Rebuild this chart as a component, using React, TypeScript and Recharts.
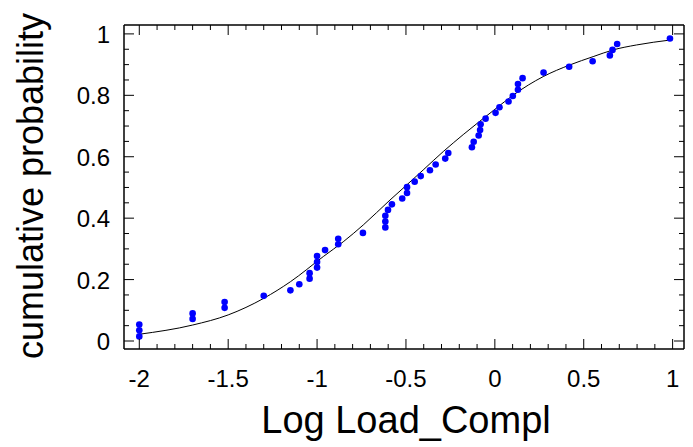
import React from "react";
import { ComposedChart, XAxis, YAxis, Line, Scatter } from "recharts";

// observed points (Log Load_Compl, cumulative probability)
const pointX = [
  -2.0, -2.0, -2.0, -1.7, -1.7, -1.52, -1.52, -1.3, -1.15, -1.1,
  -1.042, -1.042, -1.0, -1.0, -1.0, -0.955, -0.881, -0.881, -0.742, -0.616,
  -0.616, -0.616, -0.601, -0.579, -0.521, -0.494, -0.494, -0.451, -0.417, -0.365,
  -0.333, -0.279, -0.262, -0.129, -0.119, -0.091, -0.083, -0.08, -0.052, 0.004,
  0.026, 0.077, 0.101, 0.13, 0.13, 0.156, 0.274, 0.418, 0.55, 0.647,
  0.662, 0.688, 0.985,
];
const pointY = [
  0.015, 0.035, 0.054, 0.072, 0.09, 0.108, 0.127, 0.147, 0.165, 0.185,
  0.203, 0.221, 0.239, 0.257, 0.277, 0.296, 0.315, 0.333, 0.352, 0.37,
  0.389, 0.408, 0.427, 0.445, 0.464, 0.482, 0.501, 0.519, 0.537, 0.556,
  0.575, 0.594, 0.612, 0.631, 0.649, 0.669, 0.687, 0.706, 0.724, 0.743,
  0.761, 0.78, 0.798, 0.818, 0.837, 0.856, 0.874, 0.893, 0.911, 0.93,
  0.948, 0.967, 0.985,
];

// fitted curve
const curveX = [
  -2.0, -1.7, -1.5, -1.3, -1.15, -0.965, -0.853, -0.74, -0.59, -0.496,
  -0.403, -0.29, -0.178, -0.084, 0.008, 0.104, 0.272, 0.422, 0.553, 0.666,
  0.797, 0.985,
];
const curveY = [
  0.022, 0.052, 0.085, 0.139, 0.193, 0.275, 0.323, 0.378, 0.459, 0.508,
  0.557, 0.617, 0.672, 0.716, 0.758, 0.801, 0.861, 0.899, 0.926, 0.948,
  0.964, 0.98,
];

const xTicks = [
  -2.0, -1.9, -1.8, -1.7, -1.6, -1.5, -1.4, -1.3, -1.2, -1.1,
  -1.0, -0.9, -0.8, -0.7, -0.6, -0.5, -0.4, -0.3, -0.2, -0.1,
  0, 0.1, 0.2, 0.3, 0.4, 0.5, 0.6, 0.7, 0.8, 0.9, 1.0,
];
const xLabels = [-2, -1.5, -1, -0.5, 0, 0.5, 1];
const yTicks = [
  0, 0.05, 0.1, 0.15, 0.2, 0.25, 0.3, 0.35, 0.4, 0.45, 0.5,
  0.55, 0.6, 0.65, 0.7, 0.75, 0.8, 0.85, 0.9, 0.95, 1.0,
];
const yLabels = [0, 0.2, 0.4, 0.6, 0.8, 1];

const xDomain: [number, number] = [-2.086, 1.064];
const yDomain: [number, number] = [-0.026, 1.029];

const points = pointX.map((x, i) => ({ x, y: pointY[i] }));
const curve = curveX.map((x, i) => ({ x, y: curveY[i] }));

const FONT = "'Liberation Sans', Arial, Helvetica, sans-serif";
const MAJOR = 10;
const MINOR = 5;

const isLabel = (arr: number[], v: number) => arr.some((a) => Math.abs(a - v) < 1e-6);

const BottomTick = (props: any) => {
  const { x, y, payload } = props;
  const v = payload.value;
  const major = isLabel(xLabels, v);
  return (
    <g>
      <line x1={x} y1={y} x2={x} y2={y - (major ? MAJOR : MINOR)} stroke="#000" strokeWidth={1} />
      {major && (
        <text x={x} y={y + 38} textAnchor="middle" fontFamily={FONT} fontSize={24} fill="#000">
          {String(v)}
        </text>
      )}
    </g>
  );
};

const TopTick = (props: any) => {
  const { x, y, payload } = props;
  const major = isLabel(xLabels, payload.value);
  return <line x1={x} y1={y} x2={x} y2={y + (major ? MAJOR : MINOR)} stroke="#000" strokeWidth={1} />;
};

const LeftTick = (props: any) => {
  const { x, y, payload } = props;
  const v = payload.value;
  const major = isLabel(yLabels, v);
  return (
    <g>
      <line x1={x} y1={y} x2={x + (major ? MAJOR : MINOR)} y2={y} stroke="#000" strokeWidth={1} />
      {major && (
        <text x={x - 14} y={y + 9} textAnchor="end" fontFamily={FONT} fontSize={24} fill="#000">
          {String(v)}
        </text>
      )}
    </g>
  );
};

const RightTick = (props: any) => {
  const { x, y, payload } = props;
  const major = isLabel(yLabels, payload.value);
  return <line x1={x} y1={y} x2={x - (major ? MAJOR : MINOR)} y2={y} stroke="#000" strokeWidth={1} />;
};

const Dot = (props: any) => <circle cx={props.cx} cy={props.cy} r={3.3} fill="#0000ff" />;

const XTitle = (props: any) => {
  const vb = props.viewBox;
  return (
    <text x={vb.x + vb.width / 2 + 2} y={vb.y + 84} textAnchor="middle" fontFamily={FONT} fontSize={38} fill="#000">
      Log Load_Compl
    </text>
  );
};

const YTitle = (props: any) => {
  const vb = props.viewBox;
  const cx = 43;
  const cy = vb.y + vb.height / 2 - 1;
  return (
    <text x={cx} y={cy} textAnchor="middle" fontFamily={FONT} fontSize={36} fill="#000" transform={`rotate(-90, ${cx}, ${cy})`}>
      cumulative probability
    </text>
  );
};

export default function App() {
  return (
    <div style={{ position: "absolute", left: 0, top: 0, background: "#fff" }}>
      <ComposedChart width={693} height={447} margin={{ top: 0, right: 0, bottom: 0, left: 0 }}>
        <XAxis
          xAxisId="b"
          orientation="bottom"
          type="number"
          dataKey="x"
          domain={xDomain}
          allowDataOverflow
          ticks={xTicks}
          interval={0}
          height={98}
          tickSize={0}
          tickMargin={0}
          tick={<BottomTick />}
          axisLine={{ stroke: "#000", strokeWidth: 1.5 }}
          label={{ content: <XTitle /> }}
        />
        <XAxis
          xAxisId="t"
          orientation="top"
          type="number"
          dataKey="x"
          domain={xDomain}
          allowDataOverflow
          ticks={xTicks}
          interval={0}
          height={25}
          tickSize={0}
          tickMargin={0}
          tick={<TopTick />}
          axisLine={{ stroke: "#000", strokeWidth: 1.5 }}
        />
        <YAxis
          yAxisId="l"
          orientation="left"
          type="number"
          domain={yDomain}
          allowDataOverflow
          ticks={yTicks}
          interval={0}
          width={124}
          tickSize={0}
          tickMargin={0}
          tick={<LeftTick />}
          axisLine={{ stroke: "#000", strokeWidth: 1.5 }}
          label={{ content: <YTitle /> }}
        />
        <YAxis
          yAxisId="r"
          orientation="right"
          type="number"
          domain={yDomain}
          allowDataOverflow
          ticks={yTicks}
          interval={0}
          width={9}
          tickSize={0}
          tickMargin={0}
          tick={<RightTick />}
          axisLine={{ stroke: "#000", strokeWidth: 1.5 }}
        />
        <Line
          xAxisId="b"
          yAxisId="l"
          data={curve}
          dataKey="y"
          type="monotone"
          stroke="#000"
          strokeWidth={1}
          dot={false}
          activeDot={false}
          isAnimationActive={false}
        />
        <Scatter
          xAxisId="b"
          yAxisId="l"
          data={points}
          dataKey="y"
          shape={<Dot />}
          isAnimationActive={false}
        />
      </ComposedChart>
    </div>
  );
}
